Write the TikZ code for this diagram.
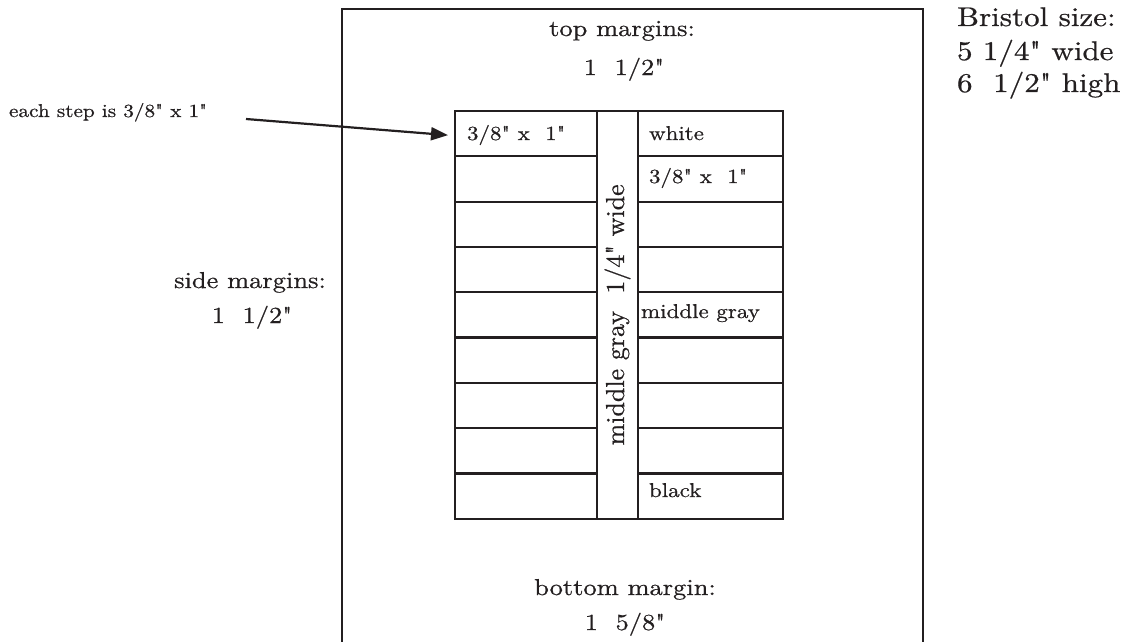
\documentclass[tikz,border=0pt]{standalone}
\usepackage{fontspec}
\setmainfont{lmroman10-regular.otf}[Ligatures=TeXOff, FakeBold=0.6]
\usepackage{graphicx}
\usetikzlibrary{arrows.meta}
\definecolor{ink}{HTML}{231F20}
\newcommand{\hsx}[1]{\scalebox{1.15}[1]{#1}}
\tikzset{
  frame/.style={draw=ink, line width=2.2pt},
  cell/.style={draw=ink, line width=2.2pt, rectangle, inner sep=0pt, outer sep=0pt,
               minimum height=45.3pt, anchor=north west},
  lcell/.style={cell, minimum width=142pt},
  rcell/.style={cell, minimum width=145pt},
  big/.style={text=ink, inner sep=0pt, outer sep=0pt, anchor=base, font=\fontsize{23}{27}\selectfont},
  bristol/.style={text=ink, inner sep=0pt, outer sep=0pt, anchor=base west, font=\fontsize{27}{31}\selectfont},
  celltxt/.style={text=ink, inner sep=0pt, outer sep=0pt, anchor=base west, font=\fontsize{20}{24}\selectfont},
  notetxt/.style={text=ink, inner sep=0pt, outer sep=0pt, anchor=base west, font=\fontsize{18.5}{22}\selectfont},
  pointer/.style={draw=ink, line width=2.2pt, -{Stealth[length=17pt, width=13pt, inset=0pt]}}
}
\begin{document}
\begin{tikzpicture}[x=1pt, y=-1pt]
  \useasboundingbox (0,0) rectangle (1137,642);
  \clip (0,0) rectangle (1137,642);
  % Bristol board outline (bottom edge lies below the picture)
  \coordinate (bl) at (342,660);
  \coordinate (tl) at (342,9);
  \coordinate (tr) at (923,9);
  \coordinate (br) at (923,660);
  \draw[frame] (bl) -- (tl) -- (tr) -- (br);

  % left column of steps
  \foreach \i in {1,...,9} {
    \node[lcell] (L\i) at (455, {111 + (\i-1)*45.3}) {};
  }
  % right column of steps
  \foreach \i in {1,...,9} {
    \node[rcell] (R\i) at (638, {111 + (\i-1)*45.3}) {};
  }
  % middle gray strip
  \node[cell, minimum width=41pt, minimum height=407.7pt] (M) at (597,111) {};
  \node[text=ink, inner sep=0pt, rotate=90, font=\fontsize{26}{30}\selectfont] (Mt) at (M.center) {middle gray\ \ 1/4" wide};

  % cell labels
  \node[celltxt] (l1t) at (467,140) {\hsx{3/8" x\ \ 1"}};
  \node[celltxt] (r1t) at (649,140) {\hsx{white}};
  \node[celltxt] (r2t) at (649,183) {\hsx{3/8" x\ \ 1"}};
  \node[celltxt] (r5t) at (641,318) {\hsx{middle gray}};
  \node[celltxt] (r9t) at (649,497) {\hsx{black}};

  % margin labels
  \node[big] (topA) at (622,36) {\hsx{top margins:}};
  \node[big] (topB) at (624,75) {\hsx{1\ \ 1/2"}};
  \node[big] (sideA) at (250,288) {\hsx{side margins:}};
  \node[big] (sideB) at (252,323) {\hsx{1\ \ 1/2"}};
  \node[big] (botA) at (625,595) {\hsx{bottom margin:}};
  \node[big] (botB) at (625,630) {\hsx{1\ \ 5/8"}};

  % Bristol size
  \node[bristol] (b1) at (957,26) {\hsx{Bristol size:}};
  \node[bristol] (b2) at (957,60) {\hsx{5 1/4" wide}};
  \node[bristol] (b3) at (957,92) {\hsx{6\ \ 1/2" high}};

  % note and pointer
  \node[notetxt] (note) at (9,117) {\hsx{each step is 3/8" x 1"}};
  \coordinate (ps) at (246,119);
  \draw[pointer] (ps) -- ([xshift=-7pt, yshift=-1.5pt]L1.west);
\end{tikzpicture}
\end{document}
